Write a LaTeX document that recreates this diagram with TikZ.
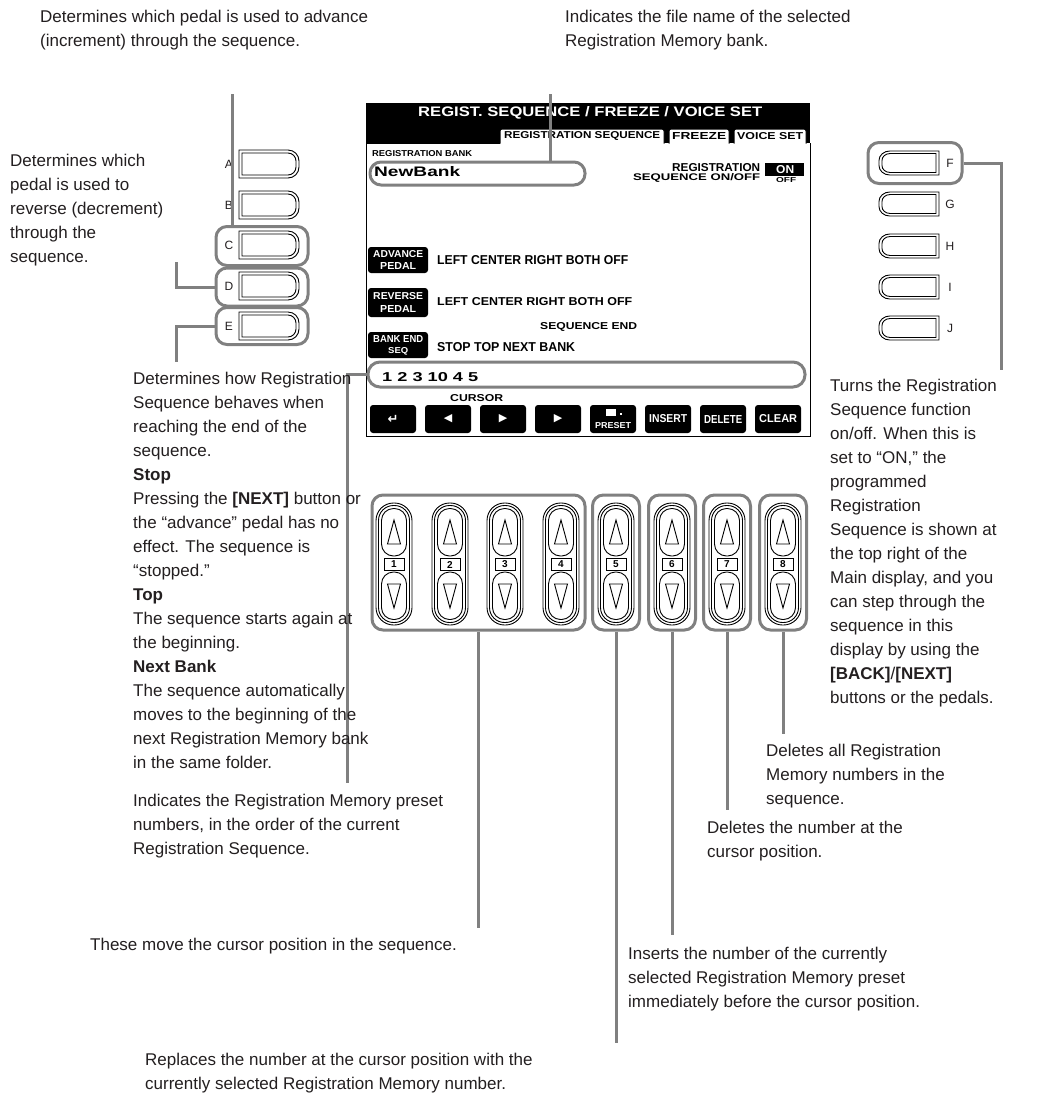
\documentclass[tikz,border=0pt]{standalone}
\usepackage{fontspec}
\setmainfont{Liberation Sans}
\newfontfamily\djv{DejaVu Sans}
\definecolor{hl}{RGB}{128,128,128}
\definecolor{txt}{RGB}{35,31,32}
\newcommand\lcdt[3]{\resizebox{#1pt}{#2pt}{\bfseries #3}}
\tikzset{
  conn/.style={draw=hl, line width=3pt},
  hlbox/.style={draw=hl, line width=3pt, rounded corners=11pt, inner sep=0pt},
  desc/.style={anchor=north west, inner sep=0pt, align=left, font=\fontsize{17}{24}\selectfont, text=txt},
  lcd/.style={inner sep=0pt, anchor=west},
  lettr/.style={inner sep=0pt, font=\fontsize{12}{12}\selectfont, text=txt},
  btnline/.style={line width=0.9pt},
  sidebtn/.pic={
    \draw[btnline, fill=white] (-30,-14) -- (19,-14) arc[start angle=-90,end angle=0,radius=11] -- (30,3) arc[start angle=0,end angle=90,radius=11] -- (-30,14) -- cycle;
    \draw[btnline] (-27,-11) -- (19,-11) arc[start angle=-90,end angle=0,radius=8] -- (27,3) arc[start angle=0,end angle=90,radius=8] -- (-27,11) -- cycle;
  },
  pics/numbtn/.style={code={
    \draw[btnline, fill=white, rounded corners=17.5pt] (-18,-61) rectangle (18,61);
    \draw[btnline, rounded corners=15pt] (-15.5,-58.5) rectangle (15.5,58.5);
    \draw[btnline, rounded corners=12pt] (-12.5,-55.5) rectangle (12.5,-8);
    \draw[btnline, rounded corners=12pt] (-12.5,8) rectangle (12.5,55.5);
    \draw[btnline] (0,-44) -- (-6.5,-20) -- (6.5,-20) -- cycle;
    \draw[btnline] (0,44) -- (-6.5,20) -- (6.5,20) -- cycle;
    \draw[btnline, fill=white] (-10,-6) rectangle (10,6);
    \node[inner sep=0pt, font=\bfseries\fontsize{10}{10}\selectfont] (-n) at (0,0.5) {#1};
  }},
}
\begin{document}
\begin{tikzpicture}[x=1pt,y=-1pt]
\useasboundingbox (0,0) rectangle (1039,1104);
\fill[white] (0,0) rectangle (1039,1104);

% ---------- LCD screen ----------
\fill[black] (366,103) rectangle (810,143);
\draw[black, line width=1pt, fill=white] (366,143) -- (366,436) -- (810,436) -- (810,143);
\foreach \a/\b in {500/664,669/729,734/806}{
  \draw[black, line width=1pt, fill=white, rounded corners=2pt] (\a,143.5) -- (\a,129) -- (\b,129) -- (\b,143.5);
}
\draw[black, line width=1pt] (366,143) -- (500,143);
\node[lcd, text=white] (ttl) at (418,113) {\lcdt{344}{10}{REGIST. SEQUENCE / FREEZE / VOICE SET}};
\node[lcd] (tab1) at (504,136) {\lcdt{156}{7}{REGISTRATION SEQUENCE}};
\node[lcd] (tab2) at (672,136) {\lcdt{54}{7}{FREEZE}};
\node[lcd] (tab3) at (737,136) {\lcdt{66}{7}{VOICE SET}};
\node[lcd] (bnklbl) at (372,154) {\lcdt{100}{6}{REGISTRATION BANK}};
\node[lcd] (bnkname) at (374,172) {\lcdt{86}{10}{NewBank}};
\node[lcd] (rs1) at (672,168) {\lcdt{88}{8}{REGISTRATION}};
\node[lcd] (rs2) at (633,178) {\lcdt{127}{7}{SEQUENCE ON/OFF}};
\fill[black] (765,163) rectangle (804,176);
\node[lcd, text=white] (onlbl) at (776,169.5) {\lcdt{18}{8}{ON}};
\node[lcd] (offlbl) at (776,180) {\lcdt{20}{5}{OFF}};
% rows
\foreach \yt/\yb in {247/273,288/317,332/358}{
  \fill[black, rounded corners=3pt] (368,\yt) rectangle (428,\yb);
}
\node[lcd, text=white] (r1a) at (373,254) {\lcdt{50}{7}{ADVANCE}};
\node[lcd, text=white] (r1b) at (380,266) {\lcdt{36}{7}{PEDAL}};
\node[lcd, text=white] (r2a) at (373,296) {\lcdt{50}{7}{REVERSE}};
\node[lcd, text=white] (r2b) at (380,309) {\lcdt{36}{7}{PEDAL}};
\node[lcd, text=white] (r3a) at (373,339) {\lcdt{50}{7}{BANK END}};
\node[lcd, text=white] (r3b) at (388,351) {\lcdt{20}{6}{SEQ}};
\node[lcd] (r1t) at (437,260) {\lcdt{191}{9}{LEFT CENTER RIGHT BOTH OFF}};
\node[lcd] (r2t) at (437,301.5) {\lcdt{195}{8}{LEFT CENTER RIGHT BOTH OFF}};
\node[lcd] (r2u) at (540,326.5) {\lcdt{97}{7}{SEQUENCE END}};
\node[lcd] (r3t) at (437,347) {\lcdt{138}{9}{STOP TOP NEXT BANK}};
\node[lcd] (seqtxt) at (382,377) {\lcdt{96}{9}{1 2 3 10 4 5}};
\node[lcd] (curs) at (450,398.5) {\lcdt{53}{7}{CURSOR}};
\foreach \x in {370,425,480,535,590,645,700,755}{
  \fill[black, rounded corners=3pt] (\x,405) rectangle (\x+46,433);
}
\node[inner sep=0pt, text=white, font=\djv\bfseries\fontsize{13}{13}\selectfont] (b1) at (393,419) {↵};
\node[inner sep=0pt, text=white, font=\djv\fontsize{11}{11}\selectfont] (b2) at (448,419) {◀};
\node[inner sep=0pt, text=white, font=\djv\fontsize{11}{11}\selectfont] (b3) at (503,419) {▶};
\node[inner sep=0pt, text=white, font=\djv\fontsize{11}{11}\selectfont] (b4) at (558,419) {▶};
\fill[white] (606,409) rectangle (616,416);
\fill[white] (620,413) rectangle (622,415);
\node[lcd, text=white] (b5) at (595,426) {\lcdt{36}{6}{PRESET}};
\node[lcd, text=white] (b6) at (649,419) {\lcdt{38}{8}{INSERT}};
\node[lcd, text=white] (b7) at (704,419) {\lcdt{38}{8}{DELETE}};
\node[lcd, text=white] (b8) at (759,419) {\lcdt{38}{8}{CLEAR}};

% ---------- side buttons ----------
\foreach \y/\l in {164/A,205/B,245/C,286/D,326/E}{
  \pic at (269,\y) {sidebtn};
  \node[lettr] (l\l) at (229,\y) {\l};
}
\foreach \y/\l in {163/F,204/G,246/H,287/I,328/J}{
  \pic[xscale=-1,yscale=0.86] at (909,\y) {sidebtn};
  \node[lettr] (l\l) at (950,\y) {\l};
}

% ---------- number buttons ----------
\foreach \x/\n in {394/1,450/2,505/3,561/4,616/5,672/6,727/7,783/8}{
  \pic (nb\n) at (\x,564) {numbtn=\n};
}

% ---------- highlight frames ----------
\node[hlbox, minimum width=215pt, minimum height=23pt] (nbOval) at (477.5,173.5) {};
\node[hlbox, minimum width=437pt, minimum height=25pt, rounded corners=12pt] (seqOval) at (586.5,374.5) {};
\node[hlbox, minimum width=92pt, minimum height=39pt] (frC) at (262,246) {};
\node[hlbox, minimum width=92pt, minimum height=38pt] (frD) at (262,287) {};
\node[hlbox, minimum width=92pt, minimum height=37pt] (frE) at (262,326) {};
\node[hlbox, minimum width=94pt, minimum height=41pt] (frF) at (915,163) {};
\node[hlbox, minimum width=213pt, minimum height=135pt] (fr14) at (478.5,562.5) {};
\foreach \x/\n in {616/5,672/6,727/7,783/8}{
  \node[hlbox, minimum width=47pt, minimum height=135pt] (fr\n) at (\x,562.5) {};
}

% ---------- connectors ----------
\coordinate (tA) at (232,94);
\draw[conn] (tA) -- (tA |- frC.north);
\coordinate (tB) at (550,94);
\draw[conn] (tB) -- (tB |- nbOval.north);
\coordinate (dEnd) at (176,262);
\draw[conn] (frD.west) -| (dEnd);
\coordinate (eEnd) at (176,362);
\draw[conn] (frE.west) -| (eEnd);
\coordinate (fEnd) at (1001,370);
\draw[conn] (frF.east) -| (fEnd);
\coordinate (sEnd) at (347,783);
\draw[conn] (seqOval.west) -| (sEnd);
\coordinate (gEnd) at (478.5,928);
\draw[conn] (fr14.south) -- (gEnd);
\coordinate (e5) at (616,1043);
\draw[conn] (fr5.south) -- (e5);
\coordinate (e6) at (672,935);
\draw[conn] (fr6.south) -- (e6);
\coordinate (e7) at (727,810);
\draw[conn] (fr7.south) -- (e7);
\coordinate (e8) at (783,734);
\draw[conn] (fr8.south) -- (e8);

% ---------- descriptions ----------
\node[desc] (t1) at (40,9.7) {Determines which pedal is used to advance\\(increment) through the sequence.};
\node[desc] (t2) at (565,9.7) {Indicates the file name of the selected\\Registration Memory bank.};
\node[desc] (t3) at (10,153.7) {Determines which\\pedal is used to\\reverse (decrement)\\through the\\sequence.};
\node[desc] (t4) at (133,371.7) {Determines how Registration\\Sequence behaves when\\reaching the end of the\\sequence.\\\textbf{Stop}\\Pressing the \textbf{[NEXT]} button or\\the “advance” pedal has no\\effect. The sequence is\\“stopped.”\\\textbf{Top}\\The sequence starts again at\\the beginning.\\\textbf{Next Bank}\\The sequence automatically\\moves to the beginning of the\\next Registration Memory bank\\in the same folder.};
\node[desc] (t5) at (830,378.7) {Turns the Registration\\Sequence function\\on/off. When this is\\set to “ON,” the\\programmed\\Registration\\Sequence is shown at\\the top right of the\\Main display, and you\\can step through the\\sequence in this\\display by using the\\\textbf{[BACK]}/\textbf{[NEXT]}\\buttons or the pedals.};
\node[desc] (t6) at (133,793.7) {Indicates the Registration Memory preset\\numbers, in the order of the current\\Registration Sequence.};
\node[desc] (t7) at (90,937.7) {These move the cursor position in the sequence.};
\node[desc] (t8) at (145,1052.7) {Replaces the number at the cursor position with the\\currently selected Registration Memory number.};
\node[desc] (t9) at (628,946.7) {Inserts the number of the currently\\selected Registration Memory preset\\immediately before the cursor position.};
\node[desc] (t10) at (707,820.7) {Deletes the number at the\\cursor position.};
\node[desc] (t11) at (766,743.7) {Deletes all Registration\\Memory numbers in the\\sequence.};
\end{tikzpicture}
\end{document}
